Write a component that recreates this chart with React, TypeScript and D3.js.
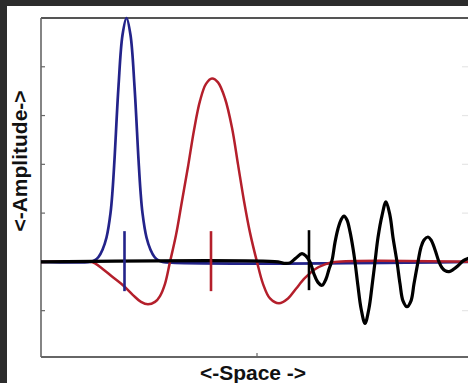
import * as d3 from "d3";

// space axis runs 0..432, amplitude -1.95..5
const X_DOMAIN: [number, number] = [0, 432];
const Y_DOMAIN: [number, number] = [-1.95, 5];
const Y_TICKS = [-1, 0, 1, 2, 3, 4];
const X_TICKS = [216];

// [space, amplitude]
const bluePulse: [number, number][] = [
  [0, 0], [49.5, 0], [53.5, 0.03], [57.5, 0.1], [61.5, 0.25], [65.5, 0.5],
  [69.5, 1.0], [71.5, 1.45], [73.5, 2.1], [77.5, 3.6], [81.5, 4.65], [85.5, 5.0],
  [89.5, 4.65], [93.5, 3.6], [97.5, 2.1], [99.5, 1.45], [101.5, 1.0], [105.5, 0.5],
  [109.5, 0.25], [113.5, 0.1], [117.5, 0.03], [121.5, 0], [432, 0],
];

const redPulse: [number, number][] = [
  [0, 0], [49, 0], [54, -0.03], [62, -0.15], [71, -0.3], [82, -0.48], [92, -0.68],
  [100, -0.82], [107, -0.87], [114, -0.82], [119, -0.7], [124, -0.45], [129, 0],
  [135, 0.55], [141, 1.25], [147, 1.95], [153, 2.7], [159, 3.3], [165, 3.65],
  [171, 3.76], [177, 3.68], [184, 3.35], [191, 2.75], [197, 2.0], [203, 1.25],
  [209, 0.6], [216, 0], [222, -0.45], [229, -0.75], [238, -0.85], [247, -0.75],
  [255, -0.55], [264, -0.33], [274, -0.15], [284, -0.05], [294, 0], [432, 0],
];

const blackWave: [number, number][] = [
  [0, 0], [237, 0], [243, -0.03], [249, -0.02], [255, 0.08], [261, 0.17], [265, 0.12],
  [269, 0], [273, -0.25], [277, -0.42], [281, -0.48], [285, -0.35], [288, -0.15],
  [291, 0.03], [294, 0.4], [297, 0.68], [300, 0.86], [303, 0.94], [306, 0.86],
  [309, 0.62], [312, 0.28], [314, 0], [317, -0.5], [320, -0.95], [324, -1.26],
  [328, -0.95], [331, -0.5], [334, 0], [337, 0.5], [341, 0.95], [345, 1.23],
  [349, 0.95], [352, 0.5], [356, 0], [359, -0.45], [362, -0.8], [366, -0.92],
  [370, -0.8], [373, -0.45], [377, 0], [380, 0.3], [383, 0.45], [387, 0.51],
  [390, 0.45], [394, 0.25], [398, 0], [401, -0.12], [404, -0.18], [408, -0.2],
  [412, -0.16], [417, -0.08], [422, 0.02], [427, 0.07], [432, 0.1],
];

const markerPos = [83.5, 170, 268];
const markerTop = [0.63, 0.63, 0.65];
const markerBottom = [-0.6, -0.6, -0.58];
const markerColors = ["#23238a", "#b41f2b", "#000000"];

const W = 468;
const H = 383;
const mg = { left: 41, right: 473, top: 18, bottom: 357 };

export default function App() {
  const x = d3.scaleLinear().domain(X_DOMAIN).range([mg.left, mg.right]);
  const y = d3.scaleLinear().domain(Y_DOMAIN).range([mg.bottom, mg.top]);
  const line = d3
    .line<[number, number]>()
    .x((d) => x(d[0]))
    .y((d) => y(d[1]))
    .curve(d3.curveCatmullRom.alpha(0.5));

  const series = [
    { data: bluePulse, color: "#23238a", w: 2.7 },
    { data: redPulse, color: "#b41f2b", w: 2.5 },
    { data: blackWave, color: "#000000", w: 3.2 },
  ];

  return (
    <svg
      width={W}
      height={H}
      style={{ position: "absolute", left: 0, top: 0 }}
      fontFamily="'Liberation Sans', Arial, sans-serif"
    >
      <rect x={0} y={0} width={W} height={H} fill="#2c2c2c" />
      <rect x={7} y={6} width={W - 7} height={H - 6} fill="#ffffff" />

      {/* frame */}
      <line x1={mg.left} x2={W} y1={mg.top} y2={mg.top} stroke="#555" strokeWidth={2} />
      <line x1={mg.left} x2={W} y1={mg.bottom} y2={mg.bottom} stroke="#666" strokeWidth={2} />
      <line x1={mg.left} x2={mg.left} y1={mg.top} y2={mg.bottom} stroke="#666" strokeWidth={1.6} />

      {Y_TICKS.map((t) => (
        <g key={t}>
          <line x1={mg.left} x2={mg.left + 4} y1={y(t)} y2={y(t)} stroke="#666" strokeWidth={1.2} />
          <line x1={x(X_DOMAIN[1]) - 11} x2={W} y1={y(t)} y2={y(t)} stroke="#e6e6e6" strokeWidth={1.2} />
        </g>
      ))}
      {X_TICKS.map((t) => (
        <line key={t} x1={x(t)} x2={x(t)} y1={mg.bottom} y2={mg.bottom - 4} stroke="#666" strokeWidth={1.2} />
      ))}

      {series.map((s, i) => (
        <path
          key={i}
          d={line(s.data) ?? ""}
          fill="none"
          stroke={s.color}
          strokeWidth={s.w}
          strokeLinejoin="round"
        />
      ))}

      {markerPos.map((p, i) => (
        <line
          key={i}
          x1={x(p)}
          x2={x(p)}
          y1={y(markerTop[i])}
          y2={y(markerBottom[i])}
          stroke={markerColors[i]}
          strokeWidth={2.6}
        />
      ))}

      <text
        transform="translate(27,161) rotate(-90)"
        textAnchor="middle"
        fontSize={21}
        fontWeight="bold"
        fill="#111"
      >
        {"<-Amplitude->"}
      </text>
      <text x={253} y={380} textAnchor="middle" fontSize={21} fontWeight="bold" fill="#111">
        {"<-Space ->"}
      </text>
    </svg>
  );
}
